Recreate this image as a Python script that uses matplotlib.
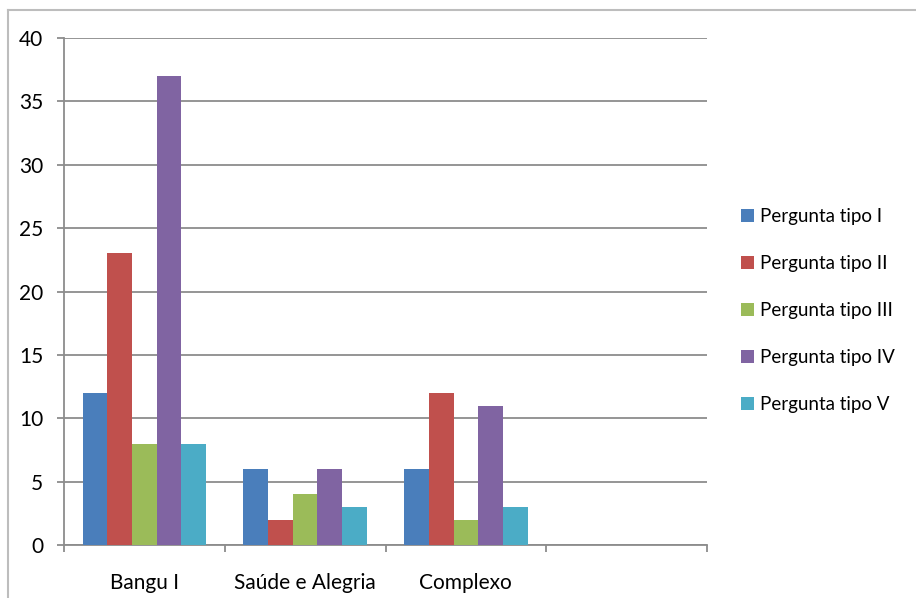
import matplotlib.pyplot as plt
import numpy as np
from matplotlib.lines import Line2D

plt.rcParams["font.family"] = ["Lato", "DejaVu Sans"]

categories = ["Bangu I", "Saúde e Alegria", "Complexo", ""]
series_names = [
    "Pergunta tipo I",
    "Pergunta tipo II",
    "Pergunta tipo III",
    "Pergunta tipo IV",
    "Pergunta tipo V",
]
tipo_i = [12, 6, 6, 0]
tipo_ii = [23, 2, 12, 0]
tipo_iii = [8, 4, 2, 0]
tipo_iv = [37, 6, 11, 0]
tipo_v = [8, 3, 3, 0]
series_values = [tipo_i, tipo_ii, tipo_iii, tipo_iv, tipo_v]
colors = ["#4A7EBB", "#C0504D", "#9BBB59", "#8064A2", "#4BACC6"]

fig = plt.figure(figsize=(9.16, 5.98), dpi=100)
ax = fig.add_axes([64 / 916, 1 - 545 / 598, 643 / 916, 507 / 598])

n = len(series_names)
bar_w = 1 / (n + 1.5)
x = np.arange(len(categories))
for i, (name, vals, c) in enumerate(zip(series_names, series_values, colors)):
    offs = (i - (n - 1) / 2) * bar_w
    ax.bar(x + offs, vals, width=bar_w, color=c, label=name, zorder=3)

ax.set_xlim(-0.5, len(categories) - 0.5)
ax.set_ylim(0, 40)
ax.set_yticks(range(0, 41, 5))
ax.yaxis.grid(True, color="#8c8c8c", linewidth=1.3, zorder=0)
ax.set_axisbelow(True)

for s in ["top", "right"]:
    ax.spines[s].set_visible(False)
for s in ["left", "bottom"]:
    ax.spines[s].set_color("#8c8c8c")
    ax.spines[s].set_linewidth(1.3)

ax.set_xticks(x)
ax.set_xticklabels(categories, fontsize=15)
ax.set_xticks(np.arange(len(categories) + 1) - 0.5, minor=True)
ax.tick_params(axis="x", which="major", length=0, pad=20)
ax.tick_params(axis="x", which="minor", length=5, width=1.3, color="#8c8c8c")
ax.tick_params(axis="y", length=5, width=1.3, color="#8c8c8c", labelsize=15, pad=10)

fig.legend(
    loc="upper left",
    bbox_to_anchor=(741 / 916, 1 - 208 / 598),
    frameon=False,
    fontsize=13.5,
    handlelength=0.7,
    handleheight=0.7,
    handletextpad=0.3,
    labelspacing=1.6,
    borderpad=0,
    borderaxespad=0,
)

# outer frame lines (top and left only)
fig.add_artist(Line2D([8 / 916, 1], [1 - 9.5 / 598, 1 - 9.5 / 598],
                      transform=fig.transFigure, color="#bdbdbd", linewidth=1.5))
fig.add_artist(Line2D([8 / 916, 8 / 916], [0, 1 - 9.5 / 598],
                      transform=fig.transFigure, color="#bdbdbd", linewidth=1.5))

fig.savefig("out.png", dpi=100)
